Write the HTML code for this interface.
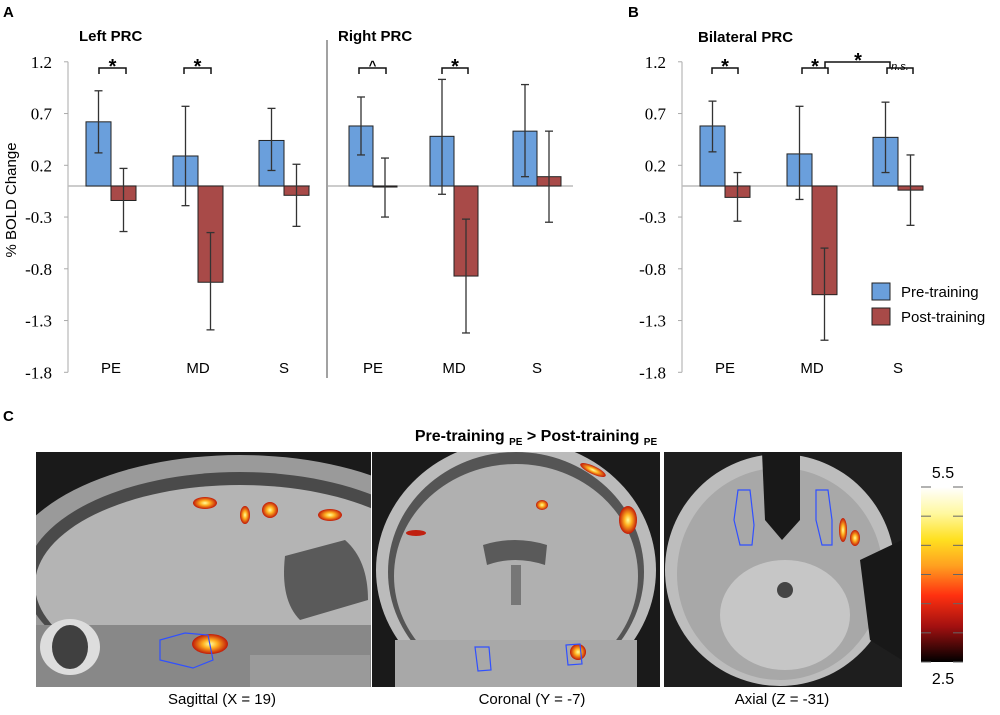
<!DOCTYPE html>
<html><head><meta charset="utf-8">
<style>
html,body{margin:0;padding:0;background:#fff;width:1000px;height:715px;overflow:hidden}
svg{display:block}
.t{font-family:"Liberation Sans",sans-serif}
.s{font-family:"Liberation Serif",serif}
</style></head>
<body>
<svg id="fig" width="1000" height="715" viewBox="0 0 1000 715" xmlns="http://www.w3.org/2000/svg">
<defs>
<linearGradient id="cb" x1="0" y1="0" x2="0" y2="1">
<stop offset="0" stop-color="#ffffff"/><stop offset="0.15" stop-color="#fff8a0"/><stop offset="0.3" stop-color="#ffe020"/><stop offset="0.45" stop-color="#ffa020"/><stop offset="0.62" stop-color="#ff3010"/><stop offset="0.8" stop-color="#a01010"/><stop offset="1" stop-color="#000000"/>
</linearGradient>
<radialGradient id="hot"><stop offset="0" stop-color="#ffffa0"/><stop offset="0.4" stop-color="#ffb020"/><stop offset="1" stop-color="#c01808"/></radialGradient>
<clipPath id="clipSag"><rect x="36" y="452" width="335" height="235"/></clipPath>
<clipPath id="clipCor"><rect x="372" y="452" width="288" height="235"/></clipPath>
<clipPath id="clipAx"><rect x="664" y="452" width="238" height="235"/></clipPath>
</defs>
<text class="t" x="3" y="17" font-size="15" font-weight="bold">A</text>
<text class="t" x="628" y="17" font-size="15" font-weight="bold">B</text>
<text class="t" x="3" y="421" font-size="15" font-weight="bold">C</text>
<text class="t" x="79" y="41" font-size="15" font-weight="bold">Left PRC</text>
<text class="t" x="338" y="41" font-size="15" font-weight="bold">Right PRC</text>
<text class="t" x="698" y="42" font-size="15" font-weight="bold">Bilateral PRC</text>
<text class="t" transform="translate(16,200) rotate(-90)" text-anchor="middle" font-size="15">% BOLD Change</text>
<line x1="327" y1="40" x2="327" y2="378" stroke="#444" stroke-width="1"/>
<g id="charts"></g>
<rect x="872" y="283" width="18" height="17" fill="#6a9fdc" stroke="#222"/>
<text class="t" x="901" y="297" font-size="15">Pre-training</text>
<rect x="872" y="308" width="18" height="17" fill="#a84a48" stroke="#222"/>
<text class="t" x="901" y="322" font-size="15">Post-training</text>
<text class="t" x="536" y="441" text-anchor="middle" font-size="16" font-weight="bold">Pre-training <tspan font-size="10" dy="4">PE</tspan><tspan dy="-4"> &gt; Post-training </tspan><tspan font-size="10" dy="4">PE</tspan></text>
<g clip-path="url(#clipSag)">
<rect x="36" y="452" width="335" height="235" fill="#1a1a1a"/>
<ellipse cx="240" cy="575" rx="235" ry="120" fill="#9a9a9a"/>
<ellipse cx="240" cy="580" rx="215" ry="108" fill="#4a4a4a"/>
<ellipse cx="240" cy="585" rx="205" ry="100" fill="#b4b4b4"/>
<path d="M285 556 L345 540 Q368 560 368 600 L300 620 Q280 600 285 556Z" fill="#5a5a5a"/>
<rect x="36" y="625" width="335" height="62" fill="#888"/>
<ellipse cx="70" cy="647" rx="30" ry="28" fill="#ddd"/>
<ellipse cx="70" cy="647" rx="18" ry="22" fill="#404040"/>
<rect x="250" y="655" width="120" height="32" fill="#9a9a9a"/>
<ellipse cx="210" cy="644" rx="18" ry="10" fill="url(#hot)"/>
<ellipse cx="205" cy="503" rx="12" ry="6" fill="url(#hot)"/>
<ellipse cx="330" cy="515" rx="12" ry="6" fill="url(#hot)"/>
<ellipse cx="270" cy="510" rx="8" ry="8" fill="url(#hot)"/>
<ellipse cx="245" cy="515" rx="5" ry="9" fill="url(#hot)"/>
<path d="M160 640 L185 633 L208 635 L213 660 L193 668 L160 660Z" fill="none" stroke="#3050ff" stroke-width="1.2"/>
</g>
<g clip-path="url(#clipCor)">
<rect x="372" y="452" width="288" height="235" fill="#1a1a1a"/>
<ellipse cx="516" cy="570" rx="140" ry="130" fill="#bbb"/>
<ellipse cx="516" cy="572" rx="128" ry="120" fill="#555"/>
<ellipse cx="516" cy="576" rx="122" ry="112" fill="#b0b0b0"/>
<rect x="395" y="640" width="242" height="47" fill="#a8a8a8"/>
<path d="M483 545 Q515 535 547 545 L545 565 Q515 555 487 565Z" fill="#5a5a5a"/>
<rect x="511" y="565" width="10" height="40" fill="#777"/>
<ellipse cx="593" cy="470" rx="14" ry="4" fill="url(#hot)" transform="rotate(25 593 470)"/>
<ellipse cx="628" cy="520" rx="9" ry="14" fill="url(#hot)"/>
<ellipse cx="542" cy="505" rx="6" ry="5" fill="url(#hot)"/>
<ellipse cx="578" cy="652" rx="8" ry="8" fill="url(#hot)"/>
<ellipse cx="416" cy="533" rx="10" ry="3" fill="#c02010"/>
<path d="M475 647 L489 647 L491 670 L478 671Z" fill="none" stroke="#3050ff" stroke-width="1.2"/>
<path d="M566 645 L580 644 L582 664 L568 665Z" fill="none" stroke="#3050ff" stroke-width="1.2"/>
</g>
<g clip-path="url(#clipAx)">
<rect x="664" y="452" width="238" height="235" fill="#1e1e1e"/>
<ellipse cx="780" cy="570" rx="115" ry="116" fill="#bdbdbd"/>
<ellipse cx="780" cy="574" rx="103" ry="106" fill="#a8a8a8"/>
<path d="M762 452 L800 452 L800 520 L782 540 L765 520Z" fill="#181818"/>
<path d="M860 560 L902 540 L902 660 L870 640Z" fill="#181818"/>
<ellipse cx="785" cy="615" rx="65" ry="55" fill="#c6c6c6"/>
<ellipse cx="785" cy="590" rx="8" ry="8" fill="#444"/>
<ellipse cx="843" cy="530" rx="4" ry="12" fill="url(#hot)"/>
<ellipse cx="855" cy="538" rx="5" ry="8" fill="url(#hot)"/>
<path d="M738 490 L750 490 L754 525 L752 545 L740 545 L734 520Z" fill="none" stroke="#3050ff" stroke-width="1.2"/>
<path d="M816 490 L828 490 L832 520 L832 545 L822 545 L816 520Z" fill="none" stroke="#3050ff" stroke-width="1.2"/>
</g>
<text class="t" x="222" y="704" text-anchor="middle" font-size="15">Sagittal (X = 19)</text>
<text class="t" x="532" y="704" text-anchor="middle" font-size="15">Coronal (Y = -7)</text>
<text class="t" x="782" y="704" text-anchor="middle" font-size="15">Axial (Z = -31)</text>
<rect x="921" y="487" width="42" height="175" fill="url(#cb)"/>
<g id="cbticks" stroke="#666" stroke-width="1"></g>
<text class="t" x="943" y="478" text-anchor="middle" font-size="16">5.5</text>
<text class="t" x="943" y="684" text-anchor="middle" font-size="16">2.5</text>
</svg>
<script>
const categories = ["PE","MD","S"];
const leftPre = [0.62, 0.29, 0.44];
const leftPreLo = [0.32, -0.19, 0.15];
const leftPreHi = [0.92, 0.77, 0.75];
const leftPost = [-0.14, -0.93, -0.09];
const leftPostLo = [-0.44, -1.39, -0.39];
const leftPostHi = [0.17, -0.45, 0.21];
const rightPre = [0.58, 0.48, 0.53];
const rightPreLo = [0.30, -0.08, 0.09];
const rightPreHi = [0.86, 1.03, 0.98];
const rightPost = [-0.01, -0.87, 0.09];
const rightPostLo = [-0.30, -1.42, -0.35];
const rightPostHi = [0.27, -0.32, 0.53];
const bilPre = [0.58, 0.31, 0.47];
const bilPreLo = [0.33, -0.13, 0.13];
const bilPreHi = [0.82, 0.77, 0.81];
const bilPost = [-0.11, -1.05, -0.04];
const bilPostLo = [-0.34, -1.49, -0.38];
const bilPostHi = [0.13, -0.60, 0.30];
const yTicks = [1.2, 0.7, 0.2, -0.3, -0.8, -1.3, -1.8];
const yTickLabels = ["1.2","0.7","0.2","-0.3","-0.8","-1.3","-1.8"];

const NS = "http://www.w3.org/2000/svg";
const root = document.getElementById("charts");
function y(v){ return 186 - v*103.5; }
function mk(tag, attrs, parent){
  const e = document.createElementNS(NS, tag);
  for (const k in attrs) e.setAttribute(k, attrs[k]);
  (parent||root).appendChild(e); return e;
}
function axis(x, name){
  const g = mk("g", {});
  
  
  mk("line", {x1:x, y1:y(1.2), x2:x, y2:y(-1.8), stroke:"#aaa"}, g);
  yTicks.forEach((v,i)=>{
    mk("line", {x1:x-4, y1:y(v), x2:x, y2:y(v), stroke:"#aaa"}, g);
    const t = mk("text", {x:x-16, y:y(v)+6, "text-anchor":"end", "font-size":"17", class:"s"}, g);
    
    
    t.textContent = yTickLabels[i];
  });
}
function zero(x1,x2){
  const l = mk("line", {x1:x1, y1:y(0), x2:x2, y2:y(0), stroke:"#bbb", "stroke-width":"1.5"});
  
  
}
function bar(x, w, v, lo, hi, fill, name){
  const top = Math.min(y(v), y(0)), h = Math.abs(y(v)-y(0));
  const r = mk("rect", {x:x, y:top, width:w, height:Math.max(h,1), fill:fill, stroke:"#222", "stroke-width":"1"});
  
  
  const cx = x + w/2;
  const g = mk("g", {stroke:"#333", "stroke-width":"1.3"});
  
  
  mk("line", {x1:cx, y1:y(hi), x2:cx, y2:y(lo)}, g);
  mk("line", {x1:cx-4, y1:y(hi), x2:cx+4, y2:y(hi)}, g);
  mk("line", {x1:cx-4, y1:y(lo), x2:cx+4, y2:y(lo)}, g);
}
function group(starts, w, pre, preLo, preHi, post, postLo, postHi, prefix, labelY){
  categories.forEach((c,i)=>{
    bar(starts[i], w, pre[i], preLo[i], preHi[i], "#6a9fdc", prefix+"-pre-"+c.toLowerCase());
    bar(starts[i]+w, w, post[i], postLo[i], postHi[i], "#a84a48", prefix+"-post-"+c.toLowerCase());
    const t = mk("text", {x:starts[i]+w, y:labelY, "text-anchor":"middle", "font-size":"15", class:"t"});
    
    
    t.textContent = c;
  });
}
function bracket(x1, x2, label, italic){
  const g = mk("g", {});
  
  
  mk("path", {d:`M${x1} 74 L${x1} 68 L${x2} 68 L${x2} 74`, fill:"none", stroke:"#111", "stroke-width":"1.5"}, g);
  const t = mk("text", {x:(x1+x2)/2, y: label==="*"?73:70, "text-anchor":"middle", "font-size": italic?"11":(label==="*"?"20":"13"), "font-weight": italic?"normal":"bold", "font-style": italic?"italic":"normal", class:"t"}, g);
  t.textContent = label;
}
axis(68, "left-y-axis");
axis(682, "bilateral-y-axis");
zero(68, 310); zero(328, 573); zero(682, 923);
group([86,173,259], 25, leftPre, leftPreLo, leftPreHi, leftPost, leftPostLo, leftPostHi, "left", 373);
group([349,430,513], 24, rightPre, rightPreLo, rightPreHi, rightPost, rightPostLo, rightPostHi, "right", 373);
group([700,787,873], 25, bilPre, bilPreLo, bilPreHi, bilPost, bilPostLo, bilPostHi, "bilateral", 373);
bracket(99,126,"*"); bracket(184,211,"*"); bracket(359,386,"^"); bracket(442,468,"*");
bracket(712,738,"*"); bracket(802,828,"*"); bracket(887,913,"n.s.",true);
const cg = mk("g", {});


mk("path", {d:"M825 68 L825 62 L890 62 L890 68", fill:"none", stroke:"#111", "stroke-width":"1.5"}, cg);
const st = mk("text", {x:858, y:67, "text-anchor":"middle", "font-size":"20", "font-weight":"bold", class:"t"}, cg);
st.textContent = "*";
const tk = document.getElementById("cbticks");
for (let i=0;i<7;i++){
  const yy = 487 + i*175/6;
  mk("line", {x1:921, y1:yy, x2:931, y2:yy}, tk);
  mk("line", {x1:953, y1:yy, x2:963, y2:yy}, tk);
}
</script>
</body></html>
